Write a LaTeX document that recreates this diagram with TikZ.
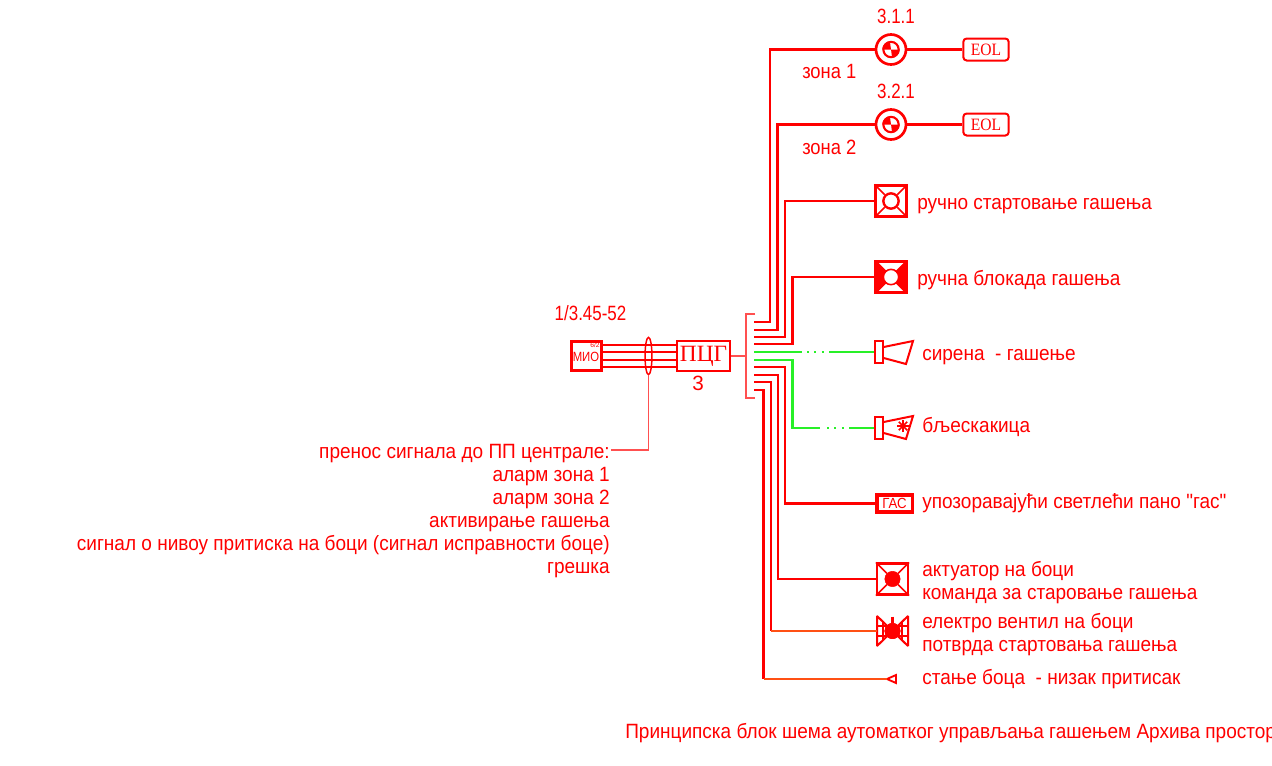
\documentclass[tikz,border=0pt]{standalone}
\usepackage{fontspec}
\usepackage{graphicx}
\usetikzlibrary{shapes.geometric}
\setmainfont{Liberation Sans}
\newfontfamily\serifname{Liberation Serif}
\newfontfamily\plainf{Liberation Sans}
\newcommand{\tx}[1]{\scalebox{.92}[1]{#1}}
\newcommand{\txn}[1]{\scalebox{.82}[1]{#1}}
\definecolor{soft}{RGB}{255,80,80}
\definecolor{orng}{RGB}{255,80,20}
\definecolor{grn}{RGB}{40,240,40}
\tikzset{
  wire/.style={draw=red,line width=1.8pt,line join=miter},
  softwire/.style={draw=soft,line width=1.2pt},
  thinwire/.style={draw=soft,line width=.9pt},
  orwire/.style={draw=orng,line width=1.6pt},
  gwire/.style={draw=grn,line width=1.6pt},
  gdots/.style={draw=grn,line width=1.6pt,dash pattern=on 1.5pt off 4.1pt},
  lbl/.style={text=red,font=\fontsize{15.5pt}{18pt}\selectfont,inner sep=0pt},
  lblr/.style={lbl,anchor=base east},
  lbll/.style={lbl,anchor=base west},
  symsq/.style={draw=red,line width=1.9pt,minimum size=23pt,inner sep=0pt},
  ring/.style={circle,draw=red,line width=1.8pt,minimum size=11.5pt,inner sep=0pt,fill=white},
  dot/.style={circle,fill=red,draw=red,minimum size=11.5pt,inner sep=0pt},
  sensor/.style={circle,draw=red,line width=2pt,minimum size=22.5pt,inner sep=0pt},
  sensorin/.style={circle,draw=red,line width=1.6pt,minimum size=11.5pt,inner sep=0pt},
  eolbox/.style={draw=red,line width=1.5pt,rounded corners=2.5pt,minimum width=34pt,minimum height=16.5pt,inner sep=0pt,text=red,font=\serifname\fontsize{13pt}{13pt}\selectfont},
  plainbox/.style={draw=red,line width=1.9pt,inner sep=0pt,text=red},
  hornbox/.style={draw=red,line width=1.5pt,fill=white,minimum width=5.5pt,minimum height=17pt,inner sep=0pt},
  hornline/.style={draw=red,line width=1.5pt},
  inner/.style={draw=red,line width=1.3pt},
}
\begin{document}
\begin{tikzpicture}[x=.75pt,y=-.75pt]
\useasboundingbox (0,0) rectangle (1272,765);
\clip (0,0) rectangle (1272,765);

% ---- left part
\node[plainbox,minimum width=22.5pt,minimum height=22pt] (mio) at (586.5,356) {};
\node[text=red,inner sep=0pt,font=\fontsize{10pt}{10pt}\selectfont] (miot) at (586,357) {\scalebox{.85}[1]{МИО}};
\node[text=red,inner sep=0pt,font=\fontsize{5pt}{5pt}\selectfont] (miosub) at (595,345.5) {6/2};
\node[plainbox,line width=1.5pt,minimum width=39.5pt,minimum height=22pt,font=\serifname\fontsize{17.5pt}{17.5pt}\selectfont] (pcg) at (703.5,356) {ПЦГ};
\node[lbl,anchor=base] (three) at (698,390) {3};
\node[lbl,anchor=base] (ref) at (590.5,320) {\txn{1/3.45-52}};
\foreach \y in {345,352,360,367}{
  \draw[wire] (mio.east |- 0,\y) -- (pcg.west |- 0,\y);
}
\node[ellipse,draw=red,line width=1.1pt,minimum width=5.2pt,minimum height=28pt,inner sep=0pt] (oval) at (648.5,356) {};
\coordinate (elbowtext) at (611,450);
\draw[thinwire] (oval.south) |- (elbowtext);

\node[lblr] (t1) at (610,458) {\tx{пренос сигнала до ПП централе:}};
\node[lblr] (t2) at (610,481) {\tx{аларм зона 1}};
\node[lblr] (t3) at (610,504) {\tx{аларм зона 2}};
\node[lblr] (t4) at (610,527) {\tx{активирање гашења}};
\node[lblr] (t5) at (610,550) {\tx{сигнал о нивоу притиска на боци (сигнал исправности боце)}};
\node[lblr] (t6) at (610,573) {\tx{грешка}};

% ---- bracket
\coordinate (brT) at (755,314);
\coordinate (brB) at (755,398);
\coordinate (brM) at (746,356);
\draw[softwire] (brT) -- (746,314) -- (746,398) -- (brB);
\draw[softwire] (pcg.east) -- (brM);

% ---- field devices
\node[sensor] (s1) at (891,49.5) {};
\node[sensorin] (s1i) at (891,49.5) {};
\fill[red] (s1i.center) -- (s1i.west) arc[start angle=180,end angle=90,radius=5.75pt] -- cycle;
\fill[red] (s1i.center) -- (s1i.east) arc[start angle=0,end angle=-90,radius=5.75pt] -- cycle;
\node[eolbox] (e1) at (986,49.5) {\scalebox{.9}[1]{EOL}};
\node[sensor] (s2) at (891,124.5) {};
\node[sensorin] (s2i) at (891,124.5) {};
\fill[red] (s2i.center) -- (s2i.west) arc[start angle=180,end angle=90,radius=5.75pt] -- cycle;
\fill[red] (s2i.center) -- (s2i.east) arc[start angle=0,end angle=-90,radius=5.75pt] -- cycle;
\node[eolbox] (e2) at (986,124.5) {\scalebox{.9}[1]{EOL}};
\draw[wire] (s1) -- (e1);
\draw[wire] (s2) -- (e2);
\node[lbl,anchor=base] (n1) at (896,23) {\txn{3.1.1}};
\node[lbl,anchor=base] (n2) at (896,98) {\txn{3.2.1}};
\node[lbll] (z1) at (802,78) {\scalebox{.89}[1]{зона 1}};
\node[lbll] (z2) at (802,154) {\scalebox{.89}[1]{зона 2}};

\node[symsq] (q1) at (891,201) {};
\node[ring] (q1c) at (891,201) {};
\foreach \a/\b in {north west/135,north east/45,south west/225,south east/315}{
  \draw[inner] (q1.\a) -- (q1c.\b);
}
\node[lbll] (l1) at (917,209) {\tx{ручно стартовање гашења}};

\node[symsq] (q2) at (891,277) {};
\fill[red] (q2.north west) -- (q2.center) -- (q2.north east) -- (q2.south east) -- (q2.center) -- (q2.south west) -- cycle;
\draw[red,line width=1.6pt,line cap=butt] ([shift={(2,2)}]q2.north west) -- (q2.center) -- ([shift={(-2,-2)}]q2.south east)
  ([shift={(-2,2)}]q2.north east) -- (q2.center) -- ([shift={(2,-2)}]q2.south west);
\node[ring,draw=red,line width=1.2pt] (q2c) at (891,277) {};
\node[lbll] (l2) at (917,285) {\tx{ручна блокада гашења}};

\node[hornbox] (h1) at (879,352) {};
\draw[hornline] (h1.east |- 0,347) -- (913,341) -- (906,364) -- (h1.east |- 0,358);
\node[lbll] (l3) at (922,360) {\tx{сирена\ \ - гашење}};

\node[hornbox] (h2) at (879,428) {};
\draw[hornline] (h2.east |- 0,422) -- (913,416) -- (906,439) -- (h2.east |- 0,433);
\foreach \r in {0,45,90,135}{
  \draw[red,line width=1.2pt,rotate around={\r:(903,426)}] (897,426) -- (909,426);
}
\node[lbll] (l4) at (922,432) {\tx{бљескакица}};

\node[draw=red,line width=2.6pt,minimum width=26.6pt,minimum height=13pt,inner sep=0pt,text=red,font=\fontsize{11pt}{12pt}\selectfont] (gas) at (894.5,503.5) {\scalebox{.9}[1]{ГАС}};
\node[lbll] (l5) at (922,508) {\tx{упозоравајући светлећи пано {\plainf\char34}гас{\plainf\char34}}};

\node[symsq] (q3) at (892.5,579) {};
\node[dot] (q3c) at (892.5,579) {};
\foreach \a/\b in {north west/135,north east/45,south west/225,south east/315}{
  \draw[inner] (q3.\a) -- (q3c.\b);
}
\node[lbll] (l6) at (922,576) {\tx{актуатор на боци}};
\node[lbll] (l7) at (922,599) {\tx{команда за старовање гашења}};

\node[dot] (v) at (892.5,631) {};
\coordinate (vl) at (877,631);
\draw[red,line width=2.6pt] (892.5,616.5) -- (v.north);
\draw[red,line width=1.5pt,line join=bevel] (v.center) -- (877,616) -- (vl) -- (877,646) -- cycle;
\draw[red,line width=1.5pt,line join=bevel] (v.center) -- (908,616) -- (908,646) -- cycle;
\draw[red,line width=1pt] (883,622) -- (883,640) (902,622) -- (902,640) (877,626) -- (888,626) (897,626) -- (908,626) (877,636) -- (888,636) (897,636) -- (908,636);
\node[dot] (v2) at (892.5,631) {};
\node[lbll] (l8) at (922,628) {\tx{електро вентил на боци}};
\node[lbll] (l9) at (922,651) {\tx{потврда стартовања гашења}};

\coordinate (tr) at (887,679);
\draw[red,line width=1.4pt] (tr) -- (896,675) -- (896,683) -- cycle;
\node[lbll] (l10) at (922,684) {\tx{стање боца\ \ - низак притисак}};

\node[lbll] (title) at (625,738) {\tx{Принципска блок шема аутоматког управљања гашењем Архива простор}};

% ---- bus
\coordinate (b1) at (754,322);
\coordinate (b2) at (754,330);
\coordinate (b3) at (754,337);
\coordinate (b4) at (754,344);
\coordinate (b5) at (754,352);
\coordinate (b6) at (754,360);
\coordinate (b7) at (754,367);
\coordinate (b8) at (754,375);
\coordinate (b9) at (754,382);
\coordinate (b10) at (754,390);
\draw[wire] (b1) -| (770,49.5) -- (s1.west);
\draw[wire] (b2) -| (777.5,124.5) -- (s2.west);
\draw[wire] (b3) -| (785,201) -- (q1.west);
\draw[wire] (b4) -| (792.5,277) -- (q2.west);
\coordinate (g1m) at (802,352);
\coordinate (g1d) at (807,352);
\coordinate (g1e) at (829,352);
\draw[gwire] (b5) -- (g1m);
\draw[gdots] (g1d) -- (g1e);
\draw[gwire] (g1e) -- (h1.west);
\coordinate (g2m) at (792.5,428);
\coordinate (g2b) at (820,428);
\coordinate (g2d) at (827,428);
\coordinate (g2e) at (850,428);
\draw[gwire] (b6) -| (g2m) -- (g2b);
\draw[gdots] (g2d) -- (g2e);
\draw[gwire] (g2e) -- (h2.west);
\draw[wire] (b7) -| (785,503.5) -- (gas.west);
\draw[wire] (b8) -| (778,579) -- (q3.west);
\draw[wire] (b9) -| (771,631);
\draw[orwire] (771,631) -- (vl);
\draw[wire] (b10) -| (763.5,679);
\draw[orwire] (763.5,679) -- (tr);
\end{tikzpicture}
\end{document}
